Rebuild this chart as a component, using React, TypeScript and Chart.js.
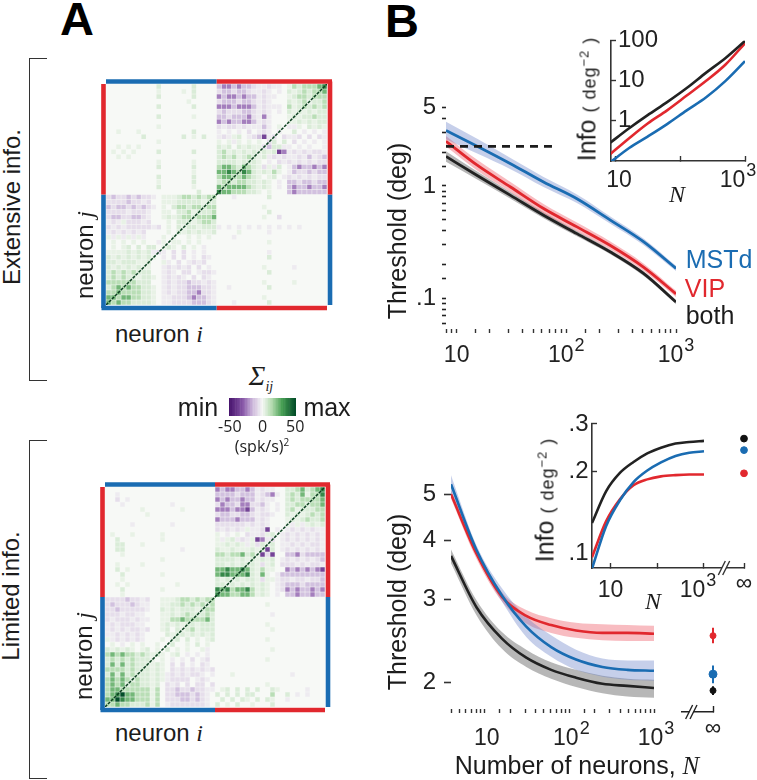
import React, { useEffect, useRef } from "react";
import Chart from "chart.js/auto";

const SANS = '"Liberation Sans", Arial, sans-serif';
const SERIF = '"Liberation Serif", serif';
const BLUE = "#1a6cb2";
const RED = "#e1282e";
const BLACK = "#222222";
const BLUE_BAND = "rgba(104,130,200,0.38)";
const RED_BAND = "rgba(238,96,108,0.42)";
const BLACK_BAND = "rgba(96,96,96,0.45)";

// ---- Panel A heat maps: one character per cell ----
const cellLevels: Record<string, number> = { ".": 0, i: 3, "1": 6, "2": 13, "3": 24, "4": 36, "5": 50, p: -3, a: -6, b: -13, c: -24, d: -36 };
const matrixExtensive = [
  "..........1......1.... bccbcbba ppapp. i2122234",
  "..........i....i.1.... abbabbap pap.p. 1i121223",
  "..........1......1.... cbccbcbb papp.. i1221222",
  "................i..... abbbabba pap... 1i12i112",
  "..........1......1.... cccbcccb pappp. 2i121212",
  "...................... abaaabba pap.p. 1i1i1i11",
  "..........1......i.... bbabbbca pcp... i1i11211",
  "...................... cbcbbccb pap... ii1i1i11",
  "..........i........... apaapapp pbp.i. ppi.1i1i",
  "..i...i..........1.... p.p.p.a. pap.p. .1.p.p.p",
  ".......1.......1.i.1.. papi1.pa bdpa.a ppa.a.ap",
  "..........i........... i.ipi.i. i.a1.1 .a.p.p.p",
  "..i.i.i............... 1i1.1i1i iab11p p.p.p..p",
  ".i.i.i....1......1.... 12i1i1i1 i1i1dc papapaap",
  "..i.i................. 1212i121 i1papa ppapbpab",
  "..........i......i.... 1111i111 i.p.ap apapapaa",
  "..........1......1.... 23321321 iaip1. pbcbbcbc",
  ".................i.... 33432431 i1i2i. pbaababb",
  "..........1......1.... 23322321 i.i1.p apapapaa",
  "..........i......1.... 12212211 i1i.p. bbabbabb",
  "..........1......i.... 32333321 i1i.p. bcbbcbbc",
  "..................1... 43322211 i.i... bcbbbbbb",
  "abaababaa p.iii 12212122 ...p......1...........",
  "aaaabaapa ..iii 11111i11 ......................",
  "babbababa p.i.1 22122122 .........i............",
  "aaaapaaap ..ii. 112i1112 ..........1...........",
  "abbaabbap ..i1i 12212223 .........i..a.........",
  "papiaaapa ...i. 111i1221 ......................",
  "apapaaaaa pa.i. 1i11i111 p.p.p.p.p.p.p.p.p.....",
  "papapapa. ...i. 1i1i1ii1 ....i.....p...........",
  "ipipipip. ..i.i ..i.i.i. ...p..................",
  ".i.i.i.i. .pi.i i.i.i... ..........i...........",
  ".i.i1.1.1 1.i1i .1.i.p.. ......................",
  "iiii1i1i1 pap.a .a.p.p.. ..........p...........",
  "1i1i1i1i1 i.p.a .a.p.ap. ..........1...........",
  "11i111ii1 ..ip. a.papa.. ......................",
  "1i1i1i1ii ..pap apa.a.p. .........i.....p......",
  "121212111 ..pap .aa.paap ..........1...........",
  "121211i11 i.pap ap.a.ap. ......................",
  "222222111 ..pap aabaapap .........i.....i......",
  "123232211 i.pap aabbbaap ..p.......1...........",
  "223222211 i.pap aabbcaap ......................",
  "332332211 i.ppa aabcbbap .........i............",
  "323221111 i.ppa aaabbbap ...p......1...........",
];
const matrixLimited = [
  "...................... cbccbbcb papp.. 11231234",
  "..p................... bbbbabbb pabcp. 1213i224",
  "..a.p................. cbcbbcbb papp.. 12122223",
  "...p.........p........ acbbacca abp.p. 11221223",
  ".......i.......i...... cccbccdb pap.p. 12i11122",
  "........i............. abbaabba paap.. 1i1i1212",
  "...................... cbbbcbbb pap... i1i12112",
  ".....p.......p........ aaaaaapa pap... ipipi1i1",
  "...................... apapapip pad.p. papapapp",
  ".i...i.....i.......... i.p.i.ap pai1.p apapapap",
  "..1........i.......... ipi1papi dcpa.p apapapap",
  "..11...i.............. ii1i1ipi a1i1.p papapaap",
  "..11...........p...... 1ii1iii1 i1d1.p apapapap",
  "...i.................. 22122312 idad.. bbcabbbb",
  "...........i.......... 1111i1i1 i1i1.p apapapab",
  "..i....i.............. 11i1i111 iai1.a aapapaap",
  "..1.i................. 33433431 i2ii.. cbcbcbcd",
  "...1.......i.......... 34433341 i3i.pb bbbbbbbb",
  "...i.................. 1i1i1i11 iaiipa apaapaab",
  "..i.i.........i....... 11i1i1i1 i1i.pa bbbabbbb",
  "...1.......i.......... 43423342 i1i.pa cbcbbcbc",
  "...i.................. 43322332 i1i.p. bbcbbcbb",
  "aaaabaapa ..iii 12212122 ......................",
  "abaaabapp ..ii1 12121212 ..........i...........",
  "aabaaaaap ..1i1 i111i122 ......................",
  "aaapaapp. ..ii1 i1211121 ...........p..........",
  "apaaapapp ..ii2 23222231 ......................",
  "papaaapp. ..i1i 1i11i111 ..........i...........",
  "papapaapa ..i1. 1i12i111 ...........i..........",
  "ppapapap. ...1i 11i1i1i1 ......................",
  "ipapapap. ..i.i 1.1.i.i1 ..........i...........",
  ".i.p.i.i. .i..1 ..i.1.i. ......................",
  "1i1i1i.i1 .i.1. i.i..ip. ...........i..........",
  "232322121 i1i.i 1.p.p.p. ......................",
  "121212111 i.i.p .p.a.pa. ..........i...........",
  "131312111 i1i.a .a.p.ap. ......................",
  "222212111 i1i.a papapapa ......................",
  "131312111 i1ipa papaap.p ...i...........p......",
  "232321211 i1ipa aaa.pap. ......................",
  "232312211 i1.ap a.a.aa.a ..........i...........",
  "233222222 i2.aa baabaapp .i1.1.1.1..1i.....p...",
  "234533222 i2.aa bbbabap. 1.1.1.11...2..1.p.p...",
  "335433222 i2.aa abbabap. .1.1.1i.1.1i..p.......",
  "223221112 i2.pa aaaaaap. 1.i.1..i...1..........",
];
const diagonalEnds = [0, 44];
const edgeNear = -0.5;
const edgeFar = 44.6;
const edgeMiddle = 22;

// ---- Colour bar ----
const colorBarValues = [-50, -47.5, -45, -42.5, -40, -37.5, -35, -32.5, -30, -27.5, -25, -22.5, -20, -17.5, -15, -12.5, -10, -7.5, -5, -2.5, 0, 2.5, 5, 7.5, 10, 12.5, 15, 17.5, 20, 22.5, 25, 27.5, 30, 32.5, 35, 37.5, 40, 42.5, 45, 47.5, 50];
const colorBarLabels = [-50, 0, 50];
const colorStops: [number, number[]][] = [
  [-50, [72, 20, 110]],
  [-30, [136, 88, 168]],
  [-15, [205, 184, 220]],
  [0, [246, 248, 245]],
  [15, [176, 218, 172]],
  [30, [74, 160, 86]],
  [50, [3, 78, 40]],
];

// ---- Panel B, top main ----
const extN = [8, 15.4, 31, 62, 125, 250, 505, 1000];
const extBlue = [3.12, 2.26, 1.58, 1.085, 0.77, 0.5, 0.32, 0.185];
const extBlueHi = [3.72, 2.63, 1.77, 1.2, 0.842, 0.539, 0.342, 0.195];
const extBlueLo = [2.61, 1.945, 1.41, 0.98, 0.705, 0.464, 0.299, 0.175];
const extRed = [2.5, 1.53, 0.98, 0.63, 0.433, 0.297, 0.19, 0.11];
const extRedHi = [2.79, 1.71, 1.086, 0.693, 0.473, 0.322, 0.205, 0.117];
const extRedLo = [2.24, 1.37, 0.885, 0.573, 0.396, 0.274, 0.176, 0.103];
const extBlack = [1.83, 1.24, 0.826, 0.55, 0.377, 0.26, 0.167, 0.093];
const extBlackHi = [2.04, 1.345, 0.884, 0.585, 0.398, 0.273, 0.175, 0.097];
const extBlackLo = [1.64, 1.143, 0.772, 0.517, 0.357, 0.248, 0.159, 0.089];
const dashedN = [8, 74];
const dashedLevel = [2.25, 2.25];

// ---- Panel B, top inset ----
const extInfoN = [8, 16, 31, 62, 125, 250, 500, 1000];
const extInfoBlack = [0.279, 0.65, 1.38, 2.91, 6.53, 15.8, 36.7, 97];
const extInfoRed = [0.145, 0.37, 0.86, 1.82, 4.24, 9.87, 25.2, 85];
const extInfoBlue = [0.0906, 0.211, 0.406, 0.829, 1.82, 3.86, 9.87, 30.4];

// ---- Panel B, bottom main ----
const limN = [4, 8, 16, 31, 61, 120, 246, 484, 1000];
const limBlue = [5.26, 3.82, 3.06, 2.63, 2.38, 2.24, 2.16, 2.13, 2.12];
const limBlueHi = [5.5, 3.91, 3.17, 2.76, 2.52, 2.35, 2.25, 2.23, 2.23];
const limBlueLo = [5.02, 3.72, 2.97, 2.5, 2.27, 2.13, 2.06, 2.03, 2.02];
const limRed = [5.01, 3.75, 3.04, 2.77, 2.65, 2.58, 2.55, 2.55, 2.54];
const limRedHi = [5.11, 3.85, 3.11, 2.85, 2.74, 2.68, 2.66, 2.65, 2.64];
const limRedLo = [4.91, 3.66, 2.97, 2.67, 2.55, 2.49, 2.46, 2.45, 2.45];
const limBlack = [3.71, 2.89, 2.48, 2.26, 2.13, 2.05, 1.99, 1.97, 1.95];
const limBlackHi = [3.83, 2.99, 2.56, 2.35, 2.21, 2.13, 2.07, 2.04, 2.03];
const limBlackLo = [3.58, 2.78, 2.36, 2.16, 2.04, 1.96, 1.9, 1.87, 1.86];

// ---- Infinite-population thresholds: [centre, low, high] ----
const infRed = [2.48, 2.39, 2.58];
const infBlue = [2.05, 1.96, 2.14];
const infBlack = [1.89, 1.85, 1.93];

// ---- Panel B, bottom inset ----
const limInfoN = [4, 8, 16, 31, 61, 120, 246, 484, 1000];
const limInfoBlack = [0.129, 0.169, 0.198, 0.217, 0.2335, 0.245, 0.2538, 0.2573, 0.2596];
const limInfoBlue = [0.0875, 0.1256, 0.1569, 0.1829, 0.2017, 0.2162, 0.2284, 0.2348, 0.2376];
const limInfoRed = [0.0965, 0.1308, 0.1582, 0.1779, 0.1871, 0.1919, 0.194, 0.195, 0.195];
const limInfoInfX = 7190;
const limInfoInf = { black: 0.2647, blue: 0.24, red: 0.197 };

const mainXNames: Record<number, string> = { 10: "10", 100: "10^2", 1000: "10^3" };
const insetXNames: Record<number, string> = { 10: "10", 1000: "10^3" };
const extYNames: Record<string, string> = { "5": "5", "1": "1", "0.1": ".1" };
const limYNames: Record<string, string> = { "5": "5", "4": "4", "3": "3", "2": "2" };

function colorOf(v: number) {
  for (let i = 1; i < colorStops.length; i++) {
    const [a, ca] = colorStops[i - 1];
    const [b, cb] = colorStops[i];
    if (v <= b) {
      const t = (v - a) / (b - a);
      const c = ca.map((x, k) => Math.round(x + (cb[k] - x) * t));
      return `rgb(${c[0]},${c[1]},${c[2]})`;
    }
  }
  return "rgb(3,78,40)";
}

const zip = (xs: number[], ys: number[]) => xs.map((x, i) => ({ x, y: ys[i] }));
const key = (v: number) => String(Number(v.toPrecision(3)));

const line = (xs: number[], ys: number[], color: string, width = 2.8) => ({
  data: zip(xs, ys),
  borderColor: color,
  borderWidth: width,
  pointRadius: 0,
  cubicInterpolationMode: "monotone",
  fill: false,
  borderJoinStyle: "round",
});
const band = (xs: number[], hi: number[], lo: number[], color: string) => [
  { data: zip(xs, hi), borderWidth: 0, pointRadius: 0, cubicInterpolationMode: "monotone", backgroundColor: color, fill: "+1", borderColor: "transparent" },
  { data: zip(xs, lo), borderWidth: 0, pointRadius: 0, cubicInterpolationMode: "monotone", fill: false, borderColor: "transparent" },
];

type Area = { l: number; t: number; r: number; b: number };
type Margin = { l: number; t: number; r: number; b: number };

function tickText(o: { dy: number; font?: number; sup?: number; dx?: Record<number, number>; dyFor?: Record<number, number> }) {
  return {
    id: "tickText",
    afterDraw(chart: any) {
      const s = chart.scales.x;
      const c = chart.ctx;
      const fs = o.font ?? 23;
      const ss = o.sup ?? 18;
      c.save();
      c.fillStyle = BLACK;
      c.textBaseline = "alphabetic";
      c.textAlign = "left";
      for (const t of s.ticks) {
        if (!t.label) continue;
        const [base, sup] = String(t.label).split("^");
        c.font = `${fs}px ${SANS}`;
        const w1 = c.measureText(base).width;
        c.font = `${ss}px ${SANS}`;
        const w2 = sup ? c.measureText(sup).width + 1 : 0;
        const x = s.getPixelForValue(t.value) + (o.dx?.[t.value] ?? 0) - (w1 + w2) / 2;
        const y = chart.chartArea.bottom + o.dy + (o.dyFor?.[t.value] ?? 0);
        c.font = `${fs}px ${SANS}`;
        c.fillText(base, x, y);
        if (sup) {
          c.font = `${ss}px ${SANS}`;
          c.fillText(sup, x + w1 + 1, y - 11);
        }
      }
      c.restore();
    },
  };
}

function axisBreak(value: number, color: string) {
  return {
    id: "axisBreak",
    afterDraw(chart: any) {
      const s = chart.scales.x;
      const c = chart.ctx;
      const x = s.getPixelForValue(value);
      const y = chart.chartArea.bottom;
      c.save();
      c.fillStyle = "#fff";
      c.fillRect(x - 2, y - 2, 4, 4);
      c.strokeStyle = color;
      c.lineWidth = 1.4;
      for (const d of [-2.2, 2.2]) {
        c.beginPath();
        c.moveTo(x + d - 3.5, y + 7);
        c.lineTo(x + d + 3.5, y - 7);
        c.stroke();
      }
      c.restore();
    },
  };
}

function fillBack(color: string) {
  return {
    id: "fillBack",
    beforeDatasetsDraw(chart: any) {
      const a = chart.chartArea;
      chart.ctx.save();
      chart.ctx.fillStyle = color;
      chart.ctx.fillRect(a.left, a.top, a.right - a.left, a.bottom - a.top);
      chart.ctx.restore();
    },
  };
}

function heatConfig(rows: string[], a: Area, m: number) {
  const cells: { x: number; y: number; v: number }[] = [];
  rows.forEach((row, j) => {
    row
      .replace(/ /g, "")
      .split("")
      .forEach((ch, i) => {
        const v = cellLevels[ch] ?? 0;
        if (v !== 0) cells.push({ x: i + 0.5, y: j + 0.5, v });
      });
  });
  const bar = (x0: number, y0: number, x1: number, y1: number, color: string) => ({
    type: "line",
    data: [
      { x: x0, y: y0 },
      { x: x1, y: y1 },
    ],
    borderColor: color,
    borderWidth: 4.6,
    pointRadius: 0,
    clip: false,
    fill: false,
  });
  const side = ((a.r - a.l) / 44) * 0.9;
  return {
    type: "scatter",
    data: {
      datasets: [
        bar(0, edgeNear, edgeMiddle, edgeNear, BLUE),
        bar(edgeMiddle, edgeNear, edgeFar + 0.4, edgeNear, RED),
        bar(edgeNear, 0, edgeNear, edgeMiddle, RED),
        bar(edgeNear, edgeMiddle, edgeNear, edgeFar, BLUE),
        bar(edgeNear - 0.4, edgeFar, edgeMiddle, edgeFar, BLUE),
        bar(edgeMiddle, edgeFar, 44, edgeFar, RED),
        bar(edgeFar, edgeNear, edgeFar, edgeMiddle, RED),
        bar(edgeFar, edgeMiddle, edgeFar, 44, BLUE),
        {
          type: "line",
          data: [
            { x: diagonalEnds[0], y: diagonalEnds[1] },
            { x: diagonalEnds[1], y: diagonalEnds[0] },
          ],
          borderColor: "#0c3f20",
          borderWidth: 1.5,
          borderDash: [3, 1.2],
          pointRadius: 0,
          fill: false,
        },
        {
          data: cells,
          pointStyle: "rect",
          pointRadius: side / Math.SQRT2,
          pointBorderWidth: 0,
          borderWidth: 0,
          pointBackgroundColor: cells.map((c) => colorOf(c.v)),
        },
      ],
    },
    options: {
      animation: false,
      responsive: false,
      events: [],
      layout: { padding: m },
      plugins: { legend: { display: false }, tooltip: { enabled: false } },
      scales: {
        x: { type: "linear", min: 0, max: 44, display: false },
        y: { type: "linear", min: 0, max: 44, reverse: true, display: false },
      },
    },
    plugins: [fillBack("#f7f9f6")],
  };
}

function logX(min: number, max: number, h: number, tl: number, tickColor: string, names: Record<number, string>, extra: any = {}) {
  return {
    type: "logarithmic",
    min,
    max,
    afterFit: (s: any) => {
      s.height = h;
    },
    border: { display: false },
    grid: { display: true, drawOnChartArea: false, tickLength: tl, tickColor, tickWidth: 1.4 },
    ticks: {
      display: false,
      autoSkip: false,
      callback: (v: number) => names[Number(v)] ?? "",
    },
    ...extra,
  };
}

function logY(min: number, max: number, w: number, tl: number, tickColor: any, keep: (v: number) => boolean, padding: number, names: Record<string, string>) {
  return {
    type: "logarithmic",
    min,
    max,
    afterFit: (s: any) => {
      s.width = w;
    },
    afterBuildTicks: (s: any) => {
      s.ticks = s.ticks.filter((t: any) => keep(t.value));
    },
    border: { display: false },
    grid: { display: true, drawOnChartArea: false, tickLength: tl, tickColor, tickWidth: 1.6 },
    ticks: {
      autoSkip: false,
      padding,
      color: BLACK,
      font: { family: SANS, size: 24 },
      callback: (v: number) => names[key(Number(v))] ?? "",
    },
  };
}

const lineOptions = (m: Margin, x: any, y: any) => ({
  animation: false,
  responsive: false,
  events: [],
  layout: { padding: { top: m.t, right: m.r, left: 0, bottom: 0 } },
  plugins: { legend: { display: false }, tooltip: { enabled: false } },
  scales: { x, y },
});

const axisColor = "#333333";
const fixedTicks = (vals: number[]) => (s: any) => {
  s.ticks = vals.map((value) => ({ value }));
};

type Panel = { area: Area; margin: Margin; config: any; soft?: boolean };

function buildPanels(): Panel[] {
  const panels: Panel[] = [];

  // Heat maps
  panels.push({
    area: { l: 106, t: 84, r: 327, b: 305 },
    margin: { l: 8, t: 8, r: 8, b: 8 },
    soft: true,
    config: heatConfig(matrixExtensive, { l: 106, t: 84, r: 327, b: 305 }, 8),
  });
  panels.push({
    area: { l: 105, t: 487, r: 325, b: 707 },
    margin: { l: 8, t: 8, r: 8, b: 8 },
    soft: true,
    config: heatConfig(matrixLimited, { l: 105, t: 487, r: 325, b: 707 }, 8),
  });

  // Colour bar
  {
    const area = { l: 229, t: 398, r: 296, b: 416 };
    const margin = { l: 20, t: 2, r: 20, b: 24 };
    panels.push({
      area,
      margin,
      config: {
        type: "bar",
        data: {
          labels: colorBarValues.map(String),
          datasets: [
            {
              data: colorBarValues.map(() => 1),
              backgroundColor: colorBarValues.map(colorOf),
              borderColor: colorBarValues.map(colorOf),
              borderWidth: 0.5,
              barPercentage: 1,
              categoryPercentage: 1,
            },
          ],
        },
        options: {
          animation: false,
          responsive: false,
          events: [],
          layout: { padding: { top: margin.t, right: margin.r, left: margin.l, bottom: 0 } },
          plugins: { legend: { display: false }, tooltip: { enabled: false } },
          scales: {
            x: {
              afterFit: (s: any) => {
                s.height = margin.b;
              },
              grid: { display: false, drawTicks: false },
              border: { display: false },
              ticks: {
                autoSkip: false,
                maxRotation: 0,
                padding: 2,
                color: BLACK,
                font: { family: '"Open Sans", sans-serif', size: 16 },
                callback: (_: any, i: number) => (colorBarLabels.includes(colorBarValues[i]) ? String(colorBarValues[i]) : ""),
              },
            },
            y: { display: false, min: 0, max: 1 },
          },
        },
      },
    });
  }

  // Top main
  {
    const area = { l: 446, t: 100, r: 676, b: 329 };
    const margin = { l: 60, t: 20, r: 20, b: 45 };
    panels.push({
      area,
      margin,
      config: {
        type: "line",
        data: {
          datasets: [
            { ...line(dashedN, dashedLevel, "#1c1c1c", 2.8), borderDash: [8, 6], cubicInterpolationMode: "default", tension: 0 },
            line(extN, extBlue, BLUE),
            line(extN, extRed, RED),
            line(extN, extBlack, BLACK),
            ...band(extN, extBlueHi, extBlueLo, BLUE_BAND),
            ...band(extN, extRedHi, extRedLo, RED_BAND),
            ...band(extN, extBlackHi, extBlackLo, BLACK_BAND),
          ],
        },
        options: lineOptions(
          margin,
          logX(8, 1000, margin.b, 4, "#333", mainXNames),
          logY(0.0535, 5.77, margin.l, 4, "#222", (v) => v >= 0.059 && v <= 5.01, 6, extYNames)
        ),
        plugins: [tickText({ dy: 33 })],
      },
    });
  }

  // Top inset
  {
    const area = { l: 611, t: 39, r: 745.7, b: 161.7 };
    const margin = { l: 30, t: 20, r: 12, b: 40 };
    panels.push({
      area,
      margin,
      config: {
        type: "line",
        data: {
          datasets: [
            line(extInfoN, extInfoBlack, BLACK, 2.6),
            line(extInfoN, extInfoRed, RED, 2.6),
            line(extInfoN, extInfoBlue, BLUE, 2.6),
          ],
        },
        options: lineOptions(
          margin,
          logX(8.37, 1000, margin.b, -5, axisColor, insetXNames, {
            afterBuildTicks: fixedTicks([10, 100, 1000]),
            border: { display: true, color: axisColor, width: 1.6 },
          }),
          {
            type: "logarithmic",
            min: 0.1,
            max: 100,
            afterFit: (s: any) => {
              s.width = margin.l;
            },
            afterBuildTicks: fixedTicks([1, 10, 100]),
            border: { display: true, color: axisColor, width: 1.6 },
            grid: { display: true, drawOnChartArea: false, tickLength: -5, tickColor: axisColor, tickWidth: 1.4 },
            ticks: {
              mirror: true,
              padding: 7,
              autoSkip: false,
              color: BLACK,
              font: { family: SANS, size: 24 },
              callback: (v: number) => String(v),
            },
          }
        ),
        plugins: [tickText({ dy: 26, dx: { 10: 3, 1000: -7 }, font: 23, sup: 18 })],
      },
    });
  }

  // Bottom main
  {
    const area = { l: 450.7, t: 474, r: 654.3, b: 709 };
    const margin = { l: 60, t: 22, r: 20, b: 45 };
    panels.push({
      area,
      margin,
      config: {
        type: "line",
        data: {
          datasets: [
            line(limN, limBlue, BLUE, 2.6),
            line(limN, limRed, RED, 2.6),
            line(limN, limBlack, BLACK, 2.6),
            ...band(limN, limBlueHi, limBlueLo, BLUE_BAND),
            ...band(limN, limRedHi, limRedLo, RED_BAND),
            ...band(limN, limBlackHi, limBlackLo, BLACK_BAND),
          ],
        },
        options: lineOptions(
          margin,
          logX(4, 1000, margin.b, 4, "#333", mainXNames),
          logY(1.76, 5.52, margin.l, 7, "#333", (v) => [2, 3, 4, 5].includes(Number(key(v))), 8, limYNames)
        ),
        plugins: [tickText({ dy: 36, dx: { 10: 2, 100: 2, 1000: 2 } })],
      },
    });
  }

  // Infinite N points of the bottom main plot
  {
    const area = { l: 676.7, t: 474, r: 713.3, b: 712.7 };
    const margin = { l: 0, t: 10, r: 30, b: 40 };
    const point = (v: number[], color: string, r: number) => [
      { data: [{ x: 1, y: v[0] }], borderColor: color, backgroundColor: color, pointRadius: r, showLine: false, clip: false },
      {
        data: [
          { x: 1, y: v[1] },
          { x: 1, y: v[2] },
        ],
        borderColor: color,
        borderWidth: 2,
        pointRadius: 0,
        clip: false,
      },
    ];
    panels.push({
      area,
      margin,
      config: {
        type: "line",
        data: { datasets: [...point(infRed, RED, 3), ...point(infBlue, BLUE, 4), ...point(infBlack, "#111", 3)] },
        options: lineOptions(
          margin,
          {
            type: "linear",
            min: 0,
            max: 1,
            afterFit: (s: any) => {
              s.height = margin.b;
            },
            afterBuildTicks: fixedTicks([1]),
            border: { display: true, color: "#222", width: 1.4 },
            grid: { display: true, drawOnChartArea: false, tickLength: -6, tickColor: "#222", tickWidth: 1.4 },
            ticks: { display: false, callback: () => "∞" },
          },
          {
            type: "logarithmic",
            min: 1.73,
            max: 5.52,
            display: false,
          }
        ),
        plugins: [tickText({ dy: 23 }), axisBreak(0.3, "#222")],
      },
    });
  }

  // Bottom inset
  {
    const area = { l: 591.7, t: 420.7, r: 744, b: 567.7 };
    const margin = { l: 50, t: 20, r: 13, b: 40 };
    const dot = (y: number, color: string) => ({
      data: [{ x: limInfoInfX, y }],
      backgroundColor: color,
      borderColor: color,
      pointRadius: 3.4,
      showLine: false,
      clip: false,
    });
    panels.push({
      area,
      margin,
      config: {
        type: "line",
        data: {
          datasets: [
            line(limInfoN, limInfoBlue, BLUE, 2.6),
            line(limInfoN, limInfoRed, RED, 2.6),
            line(limInfoN, limInfoBlack, BLACK, 2.6),
            dot(limInfoInf.black, "#111"),
            dot(limInfoInf.blue, BLUE),
            dot(limInfoInf.red, RED),
          ],
        },
        options: lineOptions(
          margin,
          logX(4, limInfoInfX, margin.b, -5, axisColor, insetXNames, {
            afterBuildTicks: fixedTicks([10, 100, 1000, limInfoInfX]),
            border: { display: true, color: axisColor, width: 1.6 },
            ticks: {
              display: false,
              autoSkip: false,
              callback: (v: number) => (Number(v) === limInfoInfX ? "∞" : insetXNames[Number(v)] ?? ""),
            },
          }),
          {
            type: "logarithmic",
            min: 0.088,
            max: 0.3,
            afterFit: (s: any) => {
              s.width = margin.l;
            },
            afterBuildTicks: fixedTicks([0.1, 0.2, 0.3]),
            border: { display: true, color: axisColor, width: 1.6 },
            grid: {
              display: true,
              drawOnChartArea: false,
              tickLength: -5,
              tickWidth: 1.4,
              tickColor: (ctx: any) => (ctx.tick && ctx.tick.value === 0.1 ? "rgba(0,0,0,0)" : axisColor),
            },
            ticks: {
              autoSkip: false,
              padding: 8.5,
              color: BLACK,
              font: { family: SANS, size: 24 },
              callback: (v: number) => String(v).replace("0.", "."),
            },
          }
        ),
        plugins: [
          tickText({ dy: 29, dx: { 1000: -6 }, dyFor: { [limInfoInfX]: -7 } }),
          axisBreak(2680, axisColor),
        ],
      },
    });
  }
  return panels;
}

const Txt = ({ x, y, rot, size, font, style, children }: any) => (
  <div
    style={{
      position: "absolute",
      left: x,
      top: y,
      transform: `translate(-50%,-50%)${rot ? ` rotate(${rot}deg)` : ""}`,
      fontFamily: font ?? SANS,
      fontSize: size,
      color: "#1c1c1c",
      whiteSpace: "nowrap",
      lineHeight: 1,
      ...style,
    }}
  >
    {children}
  </div>
);
const It = ({ children, size }: any) => (
  <span style={{ fontFamily: SERIF, fontStyle: "italic", fontSize: size }}>{children}</span>
);
const Bracket = ({ top, bottom }: any) => (
  <div
    style={{
      position: "absolute",
      left: 29,
      top,
      width: 18,
      height: bottom - top,
      borderLeft: "1.5px solid #333",
      borderTop: "1.5px solid #333",
      borderBottom: "1.5px solid #333",
      boxSizing: "border-box",
    }}
  />
);
const InfoTitle = ({ x, y }: any) => (
  <Txt x={x} y={y} rot={-90} size={25}>
    Info{" "}
    <span style={{ fontSize: 18, letterSpacing: 1 }}>
      ( deg<sup style={{ fontSize: 13, lineHeight: 0 }}>−2</sup> )
    </span>
  </Txt>
);

export default function App() {
  const panels = useRef<Panel[]>(buildPanels());
  const refs = useRef<(HTMLCanvasElement | null)[]>([]);
  useEffect(() => {
    document.body.style.margin = "0";
    const charts = panels.current.map((p, i) => new Chart(refs.current[i] as HTMLCanvasElement, p.config));
    return () => charts.forEach((c) => c.destroy());
  }, []);
  return (
    <div style={{ position: "relative", width: 757, height: 780, overflow: "hidden", background: "#fff" }}>
      {panels.current.map((p, i) => (
        <canvas
          key={i}
          ref={(el) => {
            refs.current[i] = el;
          }}
          width={p.area.r - p.area.l + p.margin.l + p.margin.r}
          height={p.area.b - p.area.t + p.margin.t + p.margin.b}
          style={{
            position: "absolute",
            left: p.area.l - p.margin.l,
            top: p.area.t - p.margin.t,
            filter: p.soft ? "blur(0.5px)" : undefined,
          }}
        />
      ))}
      <Txt x={77} y={18} size={47} style={{ fontWeight: 700, color: "#000" }}>A</Txt>
      <Txt x={402} y={20} size={47} style={{ fontWeight: 700, color: "#000" }}>B</Txt>
      <Bracket top={58} bottom={381} />
      <Bracket top={440} bottom={779} />
      <Txt x={12} y={207} rot={-90} size={24}>Extensive info.</Txt>
      <Txt x={11} y={596} rot={-90} size={24}>Limited info.</Txt>
      <Txt x={85} y={255} rot={-90} size={24}>neuron <It>j</It></Txt>
      <Txt x={84} y={656} rot={-90} size={24}>neuron <It>j</It></Txt>
      <Txt x={159} y={334} size={24}>neuron <It>i</It></Txt>
      <Txt x={159} y={733} size={24}>neuron <It>i</It></Txt>
      <Txt x={261} y={378} size={28} font={SERIF} style={{ fontStyle: "italic" }}>
        Σ<sub style={{ fontSize: 14 }}>ij</sub>
      </Txt>
      <Txt x={198} y={407} size={25}>min</Txt>
      <Txt x={327} y={407} size={25}>max</Txt>
      <Txt x={262} y={446} size={16} font='"Open Sans", sans-serif'>
        (spk/s)<sup style={{ fontSize: 10, lineHeight: 0 }}>2</sup>
      </Txt>
      <Txt x={397} y={231} rot={-90} size={25}>Threshold (deg)</Txt>
      <Txt x={397} y={602} rot={-90} size={25}>Threshold (deg)</Txt>
      <Txt x={719} y={259} size={25} style={{ color: BLUE }}>MSTd</Txt>
      <Txt x={705} y={288} size={25} style={{ color: RED }}>VIP</Txt>
      <Txt x={710} y={315} size={25}>both</Txt>
      <InfoTitle x={587} y={99} />
      <InfoTitle x={545} y={500} />
      <Txt x={677} y={194} size={24}><It>N</It></Txt>
      <Txt x={653} y={601} size={24}><It>N</It></Txt>
      <Txt x={577} y={765} size={25}>Number of neurons, <It>N</It></Txt>
    </div>
  );
}
